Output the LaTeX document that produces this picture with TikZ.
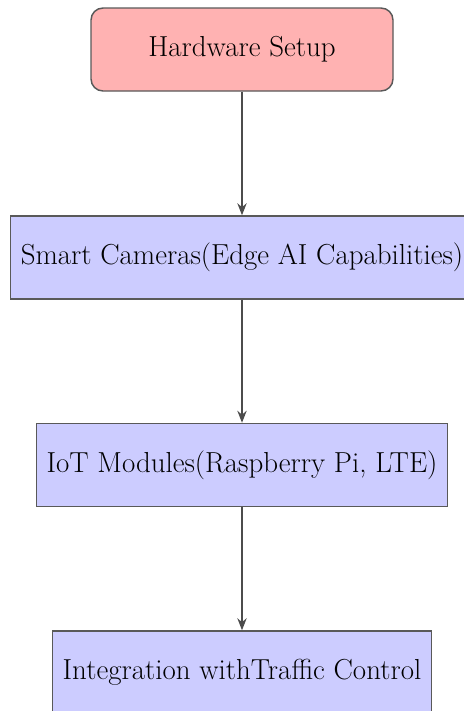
\documentclass[tikz,border=0pt]{standalone}
\usetikzlibrary{arrows.meta}
\begin{document}
\begin{tikzpicture}[x=0.75pt,y=-0.75pt,
  font=\fontsize{21.7}{26}\selectfont,
  startbox/.style={draw=black!65, line width=1.1pt, fill=red!30, rounded corners=9pt,
    minimum width=226.5pt, minimum height=62.25pt, inner xsep=7pt},
  stagebox/.style={draw=black!65, line width=1.1pt, fill=blue!20,
    minimum height=62.25pt, inner xsep=7.5pt},
  flow/.style={draw=black!70, line width=1.2pt, -{Stealth[length=9pt,width=7pt]}}]
  \useasboundingbox (0,0) rectangle (464,711);
  \node[startbox] (hw) at (242,49.5) {Hardware Setup};
  \node[stagebox] (cam) at (242,257.5) {Smart Cameras(Edge AI Capabilities)};
  \node[stagebox] (iot) at (242,465) {IoT Modules(Raspberry Pi, LTE)};
  \node[stagebox] (ctl) at (242,672.5) {Integration withTraffic Control};
  \draw[flow] (hw) -- (cam);
  \draw[flow] (cam) -- (iot);
  \draw[flow] (iot) -- (ctl);
\end{tikzpicture}
\end{document}
